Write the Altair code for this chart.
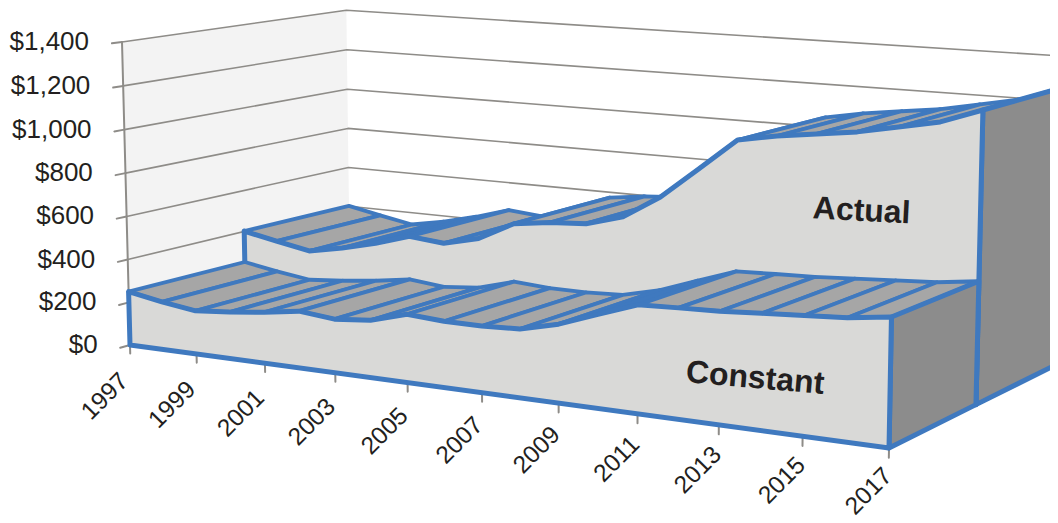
import altair as alt
import numpy as np
import pandas as pd

years = list(range(1997, 2018))
constant = [250, 222, 200, 214, 233, 258, 242, 257, 304, 293, 292, 300, 341, 403, 463, 470, 476, 487, 498, 509, 532]
actual = [402, 370, 340, 372, 413, 463, 448, 488, 574, 596, 608, 656, 762, 903, 1046, 1078, 1101, 1124, 1159, 1194, 1258]
y_ticks = [0, 200, 400, 600, 800, 1000, 1200, 1400]
x_ticks = list(range(1997, 2018, 2))

BLUE = "#3f79bf"
TOP = "#a6a6a6"
FRONT = "#d9d9d7"
SIDE = "#8c8c8c"
WALL = "#f3f3f3"
GRID = "#8e8c88"
TXT = "#231f20"

# perspective camera: columns are (year fraction, depth, dollars, 1)
CAM = np.array([
    [639.0, 129.46, -0.00725, 130.0],
    [42.5, -15.0, -0.2170, 345.0],
    [-0.135, 0.0556, -1.256e-5, 1.0],
])


def project(t, d, v):
    p = CAM @ np.array([t, d, v, 1.0])
    return p[0] / p[2], p[1] / p[2]


def T(year):
    return (year - 1997) / 20.0


def polygon(name, pts):
    rows = []
    for i, (t, d, v) in enumerate(pts):
        x, y = project(t, d, v)
        rows.append({"poly": name, "i": i, "x": x, "y": y})
    return rows


def strips(name, vals, d0, d1):
    rows = []
    for k in range(len(vals) - 1):
        t0, t1 = T(years[k]), T(years[k + 1])
        rows += polygon(f"{name}{k}", [(t0, d0, vals[k]), (t1, d0, vals[k + 1]), (t1, d1, vals[k + 1]), (t0, d1, vals[k]), (t0, d0, vals[k])])
    return rows


def front(name, vals, d):
    pts = [(T(y), d, v) for y, v in zip(years, vals)]
    pts += [(1, d, 0), (0, d, 0), (0, d, vals[0])]
    return polygon(name, pts)


def side(name, val, d0, d1):
    return polygon(name, [(1, d0, 0), (1, d0, val), (1, d1, val), (1, d1, 0), (1, d0, 0)])


X = alt.X("x:Q", scale=alt.Scale(domain=[8, 1050]), axis=None)
Y = alt.Y("y:Q", scale=alt.Scale(domain=[523, 8]), axis=None)


def shape(rows, fill=None, stroke=None, width=4.0):
    kw = dict(clip=True, strokeJoin="round", strokeCap="round")
    if fill:
        kw["fill"] = fill
    kw["stroke"] = stroke if stroke else "transparent"
    kw["strokeWidth"] = width if stroke else 0
    return alt.Chart(pd.DataFrame(rows)).mark_line(**kw).encode(x=X, y=Y, detail="poly:N", order="i:Q")


wall = polygon("wall", [(0, 0, 0), (0, 0, 1400), (0, 2, 1400), (0, 2, 0), (0, 0, 0)])

grid_rows = []
for v in y_ticks:
    grid_rows += polygon(f"g{v}", [(0, 0, v), (0, 2, v), (1, 2, v)])
axis_rows = polygon("axis", [(0, 0, 0), (0, 0, 1400)])
for v in y_ticks:
    axis_rows += polygon(f"yt{v}", [(0, 0, v), (0, -0.08, v)])
for yr in x_ticks:
    axis_rows += polygon(f"xt{yr}", [(T(yr), 0, 0), (T(yr), 0, -40)])

y_lab = []
for v in y_ticks:
    lx, _ = project(0, -0.26, v)
    _, ly = project(0, 0, v)
    y_lab.append({"x": lx, "y": ly, "label": f"${v:,}"})

x_lab = []
for yr in x_ticks:
    t = T(yr)
    lx, ly = project(t, -0.05 * (1 - t), -(145 - 45 * t))
    x_lab.append({"x": lx, "y": ly, "label": str(yr)})

ax, ay = project(0.857, 1, 785)
cx, cy = project(0.843, 0, 216)

layers = [
    shape(wall, fill=WALL),
    shape(grid_rows, stroke=GRID, width=1.6),
    shape(axis_rows, stroke=GRID, width=2),
    shape(strips("a", actual, 1, 2), fill=TOP, stroke=BLUE, width=3.8),
    shape(side("as", actual[-1], 1, 2), fill=SIDE, stroke=BLUE, width=5),
    shape(front("af", actual, 1), fill=FRONT, stroke=BLUE, width=5),
    shape(strips("c", constant, 0, 1), fill=TOP, stroke=BLUE, width=3.8),
    shape(side("cs", constant[-1], 0, 1), fill=SIDE, stroke=BLUE, width=5),
    shape(front("cf", constant, 0), fill=FRONT, stroke=BLUE, width=5),
    alt.Chart(pd.DataFrame(y_lab)).mark_text(align="right", baseline="middle", font="Liberation Sans", fontSize=26, color=TXT).encode(x=X, y=Y, text="label:N"),
    alt.Chart(pd.DataFrame(x_lab)).mark_text(align="right", baseline="middle", angle=315, font="Liberation Sans", fontSize=24.5, color=TXT).encode(x=X, y=Y, text="label:N"),
    alt.Chart(pd.DataFrame([{"x": ax, "y": ay, "label": "Actual"}])).mark_text(angle=3, font="Liberation Sans", fontSize=32, fontWeight="bold", color=TXT).encode(x=X, y=Y, text="label:N"),
    alt.Chart(pd.DataFrame([{"x": cx, "y": cy, "label": "Constant"}])).mark_text(angle=5, font="Liberation Sans", fontSize=32, fontWeight="bold", color=TXT).encode(x=X, y=Y, text="label:N"),
]

chart = alt.layer(*layers).properties(
    width=1042, height=515, padding=0, autosize="none"
).configure_view(stroke=None)

chart.save("out.html", embed_options={"renderer": "svg", "actions": False})
